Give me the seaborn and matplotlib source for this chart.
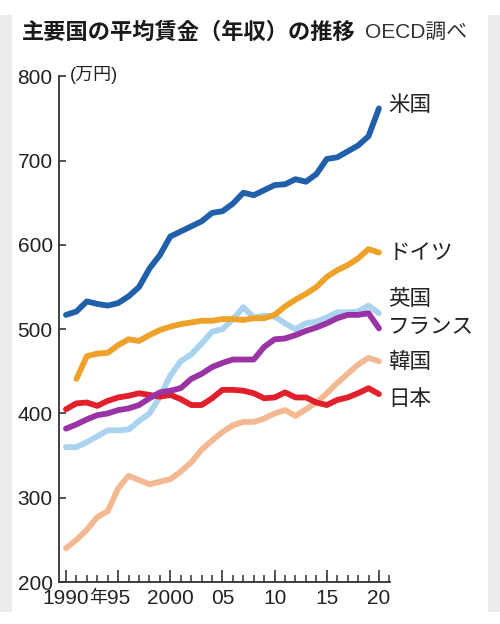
import numpy as np
import pandas as pd
import matplotlib
matplotlib.use("Agg")
import matplotlib.pyplot as plt
from matplotlib.patches import Rectangle
from matplotlib.ticker import MultipleLocator
import seaborn as sns

# ---------------- data ----------------
years = list(range(1990, 2021))
years_de = list(range(1991, 2021))

us = [517, 521, 533, 530, 528, 531, 539, 550, 572, 588, 610, 616, 622, 628, 638, 640,
      649, 662, 659, 665, 671, 672, 678, 675, 684, 702, 704, 711, 718, 729, 762]
germany = [441, 468, 471, 472, 481, 488, 486, 493, 499, 503, 506, 508, 510, 510, 512,
           512, 511, 513, 513, 517, 527, 535, 542, 550, 562, 570, 576, 584, 595, 591]
uk = [360, 360, 366, 373, 380, 380, 381, 391, 400, 420, 445, 462, 470, 483, 497, 500,
      512, 526, 514, 516, 515, 507, 500, 507, 509, 514, 520, 520, 521, 528, 519]
france = [382, 387, 393, 398, 400, 404, 406, 410, 418, 425, 427, 430, 441, 447, 455, 460,
          464, 464, 464, 479, 488, 489, 493, 498, 502, 507, 513, 517, 517, 519, 501]
japan = [405, 412, 413, 409, 415, 419, 421, 424, 422, 420, 422, 417, 410, 410, 418, 428,
         428, 427, 424, 418, 419, 425, 419, 419, 413, 410, 416, 419, 424, 430, 423]
korea = [240, 250, 262, 277, 284, 311, 326, 321, 316, 319, 322, 331, 342, 357, 368, 378,
         386, 390, 390, 394, 400, 404, 397, 405, 413, 424, 436, 447, 458, 466, 462]

countries = ["英国", "韓国", "日本", "フランス", "ドイツ", "米国"]
colors = ["#a9d3ee", "#f2b993", "#e1202b", "#9a33a4", "#eea22a", "#2060aa"]
xtick_labels = ["1990", "95", "2000", "05", "10", "15", "20"]
ytick_values = [200, 300, 400, 500, 600, 700, 800]

series = {"米国": (years, us), "ドイツ": (years_de, germany), "英国": (years, uk),
          "フランス": (years, france), "日本": (years, japan), "韓国": (years, korea)}

rows = []
for name, (yrs, vals) in series.items():
    for y, v in zip(yrs, vals):
        rows.append({"year": y, "value": v, "country": name})
df = pd.DataFrame(rows)

# ---------------- style ----------------
sns.set_theme(style="white")
FAM = ["Liberation Sans", "Noto Sans CJK JP", "DejaVu Sans"]
plt.rcParams["font.family"] = FAM
axis_col = "#333333"
text_col = "#222222"

fig = plt.figure(figsize=(5.0, 6.24), dpi=100)
fig.patch.set_facecolor("white")
# gray side bars of the screenshot
fig.patches.append(Rectangle((0, 12 / 624), 12 / 500, 597 / 624, transform=fig.transFigure,
                             facecolor="#ececec", edgecolor="none", zorder=0))
fig.patches.append(Rectangle((488 / 500, 12 / 624), 12 / 500, 597 / 624, transform=fig.transFigure,
                             facecolor="#ececec", edgecolor="none", zorder=0))

ax = fig.add_axes([59 / 500, 42 / 624, 331 / 500, 505.6 / 624])
ax.set_facecolor("none")

palette = dict(zip(countries, colors))
sns.lineplot(data=df, x="year", y="value", hue="country", hue_order=countries,
             palette=palette, linewidth=4.2, legend=False, ax=ax,
             solid_capstyle="round", solid_joinstyle="round")

ax.set_xlim(1989.33, 2021.06)
ax.set_ylim(200, 800)
ax.set_xlabel("")
ax.set_ylabel("")

for s in ["top", "right"]:
    ax.spines[s].set_visible(False)
for s in ["left", "bottom"]:
    ax.spines[s].set_color(axis_col)
    ax.spines[s].set_linewidth(1.3)

ax.set_xticks([1990, 1995, 2000, 2005, 2010, 2015, 2020])
ax.set_xticklabels(xtick_labels)
ax.xaxis.set_minor_locator(MultipleLocator(1))
ax.set_yticks(ytick_values)
ax.set_yticklabels([str(v) for v in ytick_values])

ax.tick_params(axis="x", which="major", direction="in", length=8.5, width=1.2,
               color=axis_col, labelsize=15, labelcolor=text_col, pad=5, bottom=True)
ax.tick_params(axis="x", which="minor", direction="in", length=5, width=1.1,
               color=axis_col, bottom=True)
ax.tick_params(axis="y", which="major", direction="in", length=5, width=1.2,
               color=axis_col, labelsize=15, labelcolor=text_col, pad=4.5, left=True)

# "年" after 1990
ax.annotate("年", xy=(1990, 0), xycoords=("data", "axes fraction"),
            xytext=(16.5, -11.8), textcoords="offset points", ha="left", va="center",
            fontsize=13, color=text_col, family=FAM)

# series labels
label_y = {"米国": 766, "ドイツ": 590, "英国": 535, "フランス": 502, "韓国": 460, "日本": 416}
for name, yv in label_y.items():
    ax.text(2020.9, yv, name, ha="left", va="center", fontsize=15.5,
            color=text_col, family=FAM, clip_on=False)

# titles
fig.text(22 / 500, 1 - 32 / 624, "主要国の平均賃金（年収）の推移", ha="left", va="center",
         fontsize=16, fontweight="bold", color="#1a1a1a", family=["Noto Sans CJK JP", "DejaVu Sans"])
fig.text(365 / 500, 1 - 32 / 624, "OECD調べ", ha="left", va="center",
         fontsize=15, color="#333333", family=FAM)
fig.text(70 / 500, 1 - 75 / 624, "(万円)", ha="left", va="center",
         fontsize=13, color=text_col, family=FAM)

fig.savefig("out.png", dpi=100, facecolor=fig.get_facecolor())
